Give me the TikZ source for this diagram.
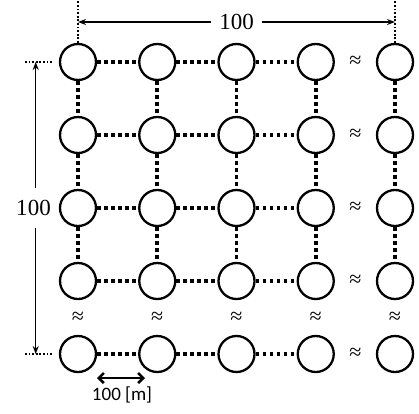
\documentclass[tikz,border=0pt]{standalone}
\usepackage{fontspec}
\setmainfont{Liberation Serif}
\newfontfamily\lblfont{Carlito}
\usetikzlibrary{arrows.meta,calc}
\begin{document}
\begin{tikzpicture}[x=1pt,y=-1pt,
  site/.style={circle,draw,line width=2.3pt,minimum size=36pt,inner sep=0pt},
  link/.style={line width=3.7pt,dash pattern=on 3.7pt off 3.3pt},
  ext/.style={line width=1.2pt,dash pattern=on 1.8pt off 1.8pt},
  dimarrow/.style={line width=1.3pt,-{Stealth[length=8pt,width=6pt]}},
  approx/.style={font=\fontsize{22}{22}\selectfont,inner sep=0pt},
  dimlabel/.style={font=\fontsize{23}{23}\selectfont,fill=white,inner xsep=8pt,inner ysep=10pt}]
\useasboundingbox (0,0) rectangle (419,413);
% sites
\foreach \r in {1,...,5}{
  \foreach \c in {1,...,5}{
    \node[site] (n\r\c) at ({78+79.25*(\c-1)},{62+73*(\r-1)}) {};
  }
}
% horizontal links
\foreach \r in {1,...,5}{
  \foreach \c/\d in {1/2,2/3,3/4}{
    \draw[link] (n\r\c) -- (n\r\d);
  }
  \node[approx] (ah\r) at ($(n\r4)!0.5!(n\r5)$) {≈};
}
% vertical links
\foreach \c in {1,...,5}{
  \foreach \r/\s in {1/2,2/3,3/4}{
    \draw[link] (n\r\c) -- (n\s\c);
  }
  \node[approx] (av\c) at ($(n4\c)!0.5!(n5\c)$) {≈};
}
% top dimension
\coordinate (tt1) at (78,0);
\coordinate (tt5) at (395,0);
\draw[ext] (n11.north) -- (tt1);
\draw[ext] (n15.north) -- (tt5);
\node[dimlabel] (toplbl) at (236.5,22) {100};
\draw[dimarrow] (toplbl) -- (toplbl -| n11);
\draw[dimarrow] (toplbl) -- (toplbl -| n15);
% left dimension
\coordinate (ll1a) at (25,62);
\coordinate (ll1b) at (52,62);
\coordinate (ll5a) at (25,354);
\coordinate (ll5b) at (52,354);
\draw[ext] (ll1a) -- (ll1b);
\draw[ext] (ll5a) -- (ll5b);
\coordinate (lx) at (35.7,208);
\node[dimlabel,inner xsep=2pt,inner ysep=12pt] (leftlbl) at (33.5,208) {100};
\draw[dimarrow] (lx |- leftlbl.north) -- (lx |- n11);
\draw[dimarrow] (lx |- leftlbl.south) -- (lx |- n51);
% bottom scale arrow
\coordinate (ba) at (97,378);
\coordinate (bb) at (145,378);
\draw[line width=2.6pt,{Straight Barb[length=5pt,width=10pt]}-{Straight Barb[length=5pt,width=10pt]}] (ba) -- (bb);
\node[font=\lblfont\fontsize{19}{19}\selectfont,inner sep=0pt] (blbl) at (122,395) {100 [m]};
\end{tikzpicture}
\end{document}
